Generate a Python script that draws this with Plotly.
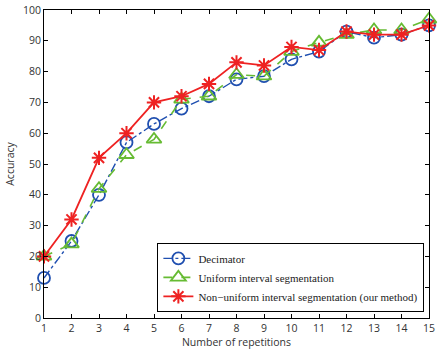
import plotly.graph_objects as go

reps = list(range(1, 16))
decimator = [13, 25, 40, 57, 63, 68, 72, 77.5, 78.5, 84, 86.5, 93, 91, 92, 95]
uniform = [20, 24, 42, 53, 58, 71, 72, 79, 78.5, 86.5, 89.5, 92, 93.5, 93.5, 97]
nonuniform = [20, 32, 52, 60, 70, 72, 76, 83, 82, 88, 87, 93, 92, 92, 95]
x_ticks = list(range(1, 16))
y_ticks = list(range(0, 101, 10))

fig = go.Figure()
fig.add_trace(go.Scatter(
    x=reps, y=decimator, name="Decimator", mode="lines+markers", cliponaxis=False,
    line=dict(color="#1f4fb0", width=1.4, dash="dashdot"),
    marker=dict(symbol="circle-open", size=12, color="#1f4fb0", line=dict(width=1.8))))
fig.add_trace(go.Scatter(
    x=reps, y=uniform, name="Uniform interval segmentation", mode="lines+markers", cliponaxis=False,
    line=dict(color="#66bb33", width=1.6, dash="dash"),
    marker=dict(symbol="triangle-up-open", size=13, color="#66bb33", line=dict(width=1.8))))
fig.add_trace(go.Scatter(
    x=reps, y=nonuniform, name="Non\u2212uniform interval segmentation (our method)",
    mode="lines+markers", cliponaxis=False,
    line=dict(color="#ee2222", width=1.8),
    marker=dict(symbol="asterisk-open", size=12, color="#ee2222", line=dict(width=2))))

axis_common = dict(showline=True, linecolor="black", linewidth=1, mirror="ticks",
                   ticks="inside", ticklen=4, tickcolor="black", showgrid=False,
                   zeroline=False, ticklabeloverflow="allow",
                   tickfont=dict(family="Open Sans, Arial", size=10.5, color="#333"))
fig.update_layout(
    width=438, height=350,
    margin=dict(l=44, r=3, t=10, b=32),
    paper_bgcolor="white", plot_bgcolor="white",
    xaxis=dict(range=[1, 15], tickvals=x_ticks, **axis_common,
               title=dict(text="Number of repetitions", standoff=3,
                          font=dict(family="Open Sans, Arial", size=10.5, color="#333"))),
    yaxis=dict(range=[0, 100], tickvals=y_ticks, **axis_common,
               title=dict(text="Accuracy", standoff=6,
                          font=dict(family="Open Sans, Arial", size=10.5, color="#333"))),
    legend=dict(x=0.988, y=0.02, xanchor="right", yanchor="bottom",
                bgcolor="white", bordercolor="black", borderwidth=1,
                font=dict(family="Liberation Serif, Times New Roman", size=11, color="#222"),
                tracegroupgap=0, itemwidth=30),
    showlegend=True,
)
fig.write_html("out.html", config={"displayModeBar": False},
               post_script="document.body.style.margin='0';")
